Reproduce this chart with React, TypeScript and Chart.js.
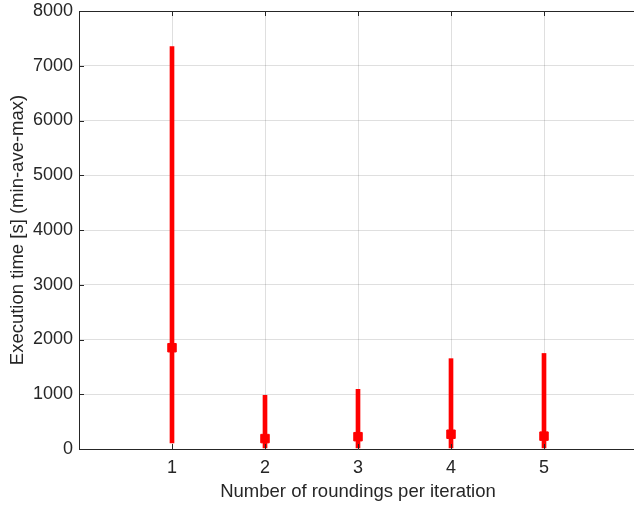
import React, { useEffect, useRef } from "react";
import { Chart, registerables } from "chart.js";

Chart.register(...registerables);

const categories = [1, 2, 3, 4, 5];
const minValues = [110, 20, 20, 20, 20];
const aveValues = [1850, 190, 225, 270, 235];
const maxValues = [7350, 980, 1090, 1650, 1745];
const yTicks = [0, 1000, 2000, 3000, 4000, 5000, 6000, 7000, 8000];
const xMin = 0;
const xMax = 6;

const AXIS = "#262626";
const FONT = "'Liberation Sans', Arial, sans-serif";
const GRID = "rgba(38,38,38,0.15)";

const inwardTicks = {
  id: "inwardTicks",
  afterDatasetsDraw(chart: any) {
    const { ctx, chartArea, scales } = chart;
    const len = 5;
    ctx.save();
    ctx.strokeStyle = AXIS;
    ctx.lineWidth = 1;
    ctx.beginPath();
    categories.forEach((c) => {
      const px = Math.round(scales.x.getPixelForValue(c)) + 0.5;
      ctx.moveTo(px, chartArea.bottom);
      ctx.lineTo(px, chartArea.bottom - len);
      ctx.moveTo(px, chartArea.top);
      ctx.lineTo(px, chartArea.top + len);
    });
    yTicks.forEach((v) => {
      const py = Math.round(scales.y.getPixelForValue(v)) + 0.5;
      ctx.moveTo(chartArea.left, py);
      ctx.lineTo(chartArea.left + len, py);
    });
    ctx.stroke();
    ctx.restore();
  },
};

export default function App() {
  const ref = useRef<HTMLCanvasElement>(null);
  useEffect(() => {
    if (!ref.current) return;
    const chart = new Chart(ref.current, {
      type: "bar",
      data: {
        datasets: [
          {
            type: "bar",
            label: "range",
            data: categories.map((c, i) => ({ x: c, y: [minValues[i], maxValues[i]] })) as any,
            backgroundColor: "#ff0000",
            borderWidth: 0,
            barThickness: 4,
            grouped: false,
          } as any,
          {
            type: "line",
            label: "ave",
            data: categories.map((c, i) => ({ x: c, y: aveValues[i] })) as any,
            showLine: false,
            pointStyle: "rect",
            pointRadius: 6,
            pointBorderWidth: 1,
            pointBackgroundColor: "#ff0000",
            pointBorderColor: "#ff0000",
          } as any,
        ],
      },
      options: {
        animation: false,
        responsive: false,
        maintainAspectRatio: false,
        devicePixelRatio: 1,
        layout: { autoPadding: false, padding: { top: 11, left: 0, right: 0, bottom: 3 } },
        plugins: { legend: { display: false }, tooltip: { enabled: false } },
        scales: {
          x: {
            type: "linear",
            position: "bottom",
            min: xMin,
            max: xMax,
            offset: false,
            afterBuildTicks: (s: any) => {
              s.ticks = categories.map((v) => ({ value: v }));
            },
            afterFit: (s: any) => {
              s.height = 54;
              s.paddingLeft = 0;
              s.paddingRight = 0;
            },
            grid: {
              color: (c: any) => (c.tick && categories.includes(c.tick.value) ? GRID : "rgba(0,0,0,0)"),
              drawTicks: false,
              offset: false,
            },
            border: { color: AXIS, width: 1 },
            ticks: {
              color: AXIS,
              font: { family: FONT, size: 18 },
              padding: 8,
              maxRotation: 0,
              callback: (v: any) => String(v),
            },
            title: {
              display: true,
              text: "Number of roundings per iteration",
              color: AXIS,
              font: { family: FONT, size: 18.5 },
              padding: { top: 1, bottom: 0 },
            },
          },
          x2: {
            type: "linear",
            position: "top",
            min: xMin,
            max: xMax,
            display: true,
            afterFit: (s: any) => {
              s.height = 0;
              s.paddingLeft = 0;
              s.paddingRight = 0;
            },
            grid: { display: false, drawTicks: false },
            border: { display: true, color: AXIS, width: 1 },
            ticks: { display: false },
          },
          y: {
            type: "linear",
            min: 0,
            max: 8000,
            afterBuildTicks: (s: any) => {
              s.ticks = yTicks.map((v) => ({ value: v }));
            },
            afterFit: (s: any) => {
              s.width = 79;
              s.paddingTop = 0;
              s.paddingBottom = 0;
            },
            grid: { color: GRID, drawTicks: false },
            border: { color: AXIS, width: 1 },
            ticks: {
              color: AXIS,
              font: { family: FONT, size: 18 },
              padding: 6,
              callback: (v: any) => String(v),
            },
            title: {
              display: true,
              text: "Execution time [s] (min-ave-max)",
              color: AXIS,
              font: { family: FONT, size: 18.5 },
              padding: { top: 7, bottom: 0 },
            },
          },
        },
      } as any,
      plugins: [inwardTicks],
    });
    return () => chart.destroy();
  }, []);
  return (
    <div style={{ position: "absolute", left: 0, top: 0, width: 634, height: 506, overflow: "hidden" }}>
      <canvas ref={ref} width={637} height={506} style={{ display: "block" }} />
    </div>
  );
}
